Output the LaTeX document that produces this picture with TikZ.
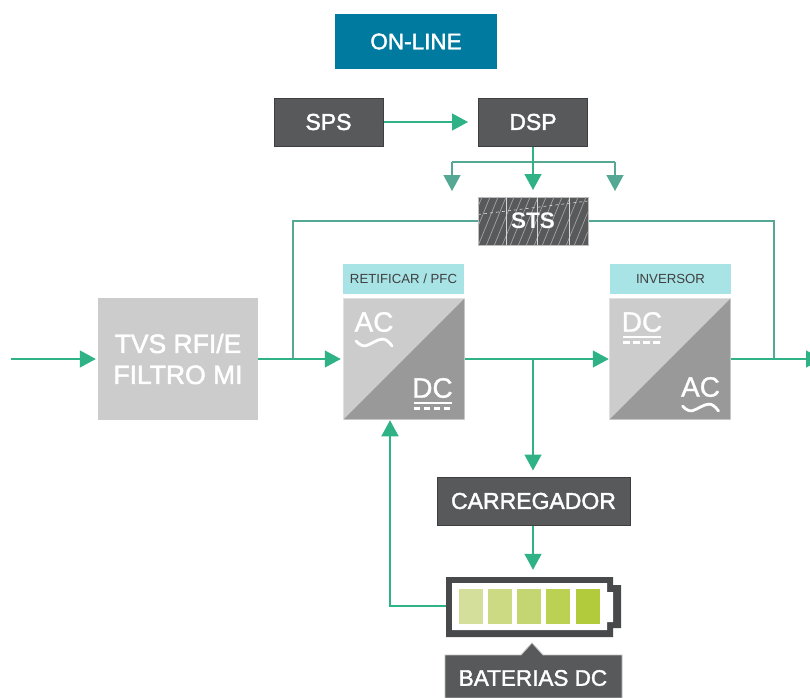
\documentclass[tikz,border=0pt]{standalone}
\usepackage{fontspec}
\setmainfont{Liberation Sans}
\newfontfamily\heavy[FakeBold=1.8]{Liberation Sans}
\newfontfamily\midheavy[FakeBold=1]{Liberation Sans}
\usetikzlibrary{arrows.meta,calc}
\definecolor{dk}{HTML}{58595B}
\definecolor{dkb}{HTML}{3E3E40}
\definecolor{gr}{HTML}{2FB386}
\definecolor{tl}{HTML}{55A893}
\definecolor{cy}{HTML}{007A9E}
\definecolor{lb}{HTML}{A8E3E6}
\definecolor{lg}{HTML}{CCCCCC}
\definecolor{mg}{HTML}{999999}
\definecolor{c1}{HTML}{D4DF9B}
\definecolor{c2}{HTML}{CCDA84}
\definecolor{c3}{HTML}{C4D671}
\definecolor{c4}{HTML}{BBD154}
\definecolor{c5}{HTML}{B2CB3C}
\tikzset{
 x=1pt,y=-1pt,
 fs/.style={font=\fontsize{#1}{#1}\selectfont\heavy},
 dkbox/.style={draw=dkb,line width=1pt,fill=dk,text=white,inner sep=0pt,fs=23},
 lblbox/.style={fill=lb,text=black!75,inner sep=0pt,minimum width=121pt,minimum height=30pt,font=\fontsize{13.2}{13.2}\selectfont},
 convbox/.style={draw=black!12,line width=1.5pt,inner sep=0pt,minimum width=121pt,minimum height=121pt},
 sym/.style={text=white,inner sep=0pt,font=\fontsize{28}{28}\selectfont\midheavy},
 wire/.style={draw=gr,line width=1.4pt},
 twire/.style={draw=tl,line width=1.4pt},
 arr/.style={wire,-{Triangle[length=16pt,width=17pt,fill=gr]}},
 tarr/.style={twire,-{Triangle[length=16pt,width=17pt,fill=tl]}},
 wavy/.style={draw=white,line width=2.8pt,line cap=round},
 rul/.style={draw=white,line width=2.4pt},
 dsh/.style={draw=white,line width=3pt,dash pattern=on 6.5pt off 3.5pt},
}
\newcommand{\wavesym}[2]{\draw[wavy] (#1-18,#2-1) .. controls (#1-10,#2+8) and (#1-5,#2+2) .. (#1,#2) .. controls (#1+6,#2-3) and (#1+11,#2-6) .. (#1+18,#2+4);}
\newcommand{\dcsym}[2]{\draw[rul] (#1-19,#2) -- (#1+19,#2); \draw[dsh] (#1-19,#2+5) -- (#1+19,#2+5);}
\begin{document}
\begin{tikzpicture}
\useasboundingbox (0,0) rectangle (810,697);
\fill[white] (0,0) rectangle (810,697);

% coordinates for free ends and branches
\coordinate (in) at (11,359);
\coordinate (out) at (822,359);
\coordinate (jl) at (452,162);
\coordinate (jr) at (615,162);
\coordinate (jc) at (533,162);
\coordinate (tipl) at (452,191);
\coordinate (tipr) at (615,191);
\coordinate (ja) at (293,359);
\coordinate (jb) at (774,359);
\coordinate (jd) at (533,359);
\coordinate (bl) at (390,606);

% boxes
\node[fill=cy,text=white,inner sep=0pt,minimum width=162pt,minimum height=55pt,fs=22.5] (title) at (416,41.5) {ON-LINE};
\node[dkbox,minimum width=109pt,minimum height=48pt] (sps) at (328.5,122) {SPS};
\node[dkbox,minimum width=109pt,minimum height=48pt] (dsp) at (533,122) {DSP};
\node[draw=black!25,line width=1pt,fill=dk,inner sep=0pt,minimum width=110pt,minimum height=48pt] (sts) at (533,221) {};
\begin{scope}
\clip (478.5,197.5) rectangle (587.5,244.5);
\foreach \i in {0,...,18}{
  \draw[white!45!dk,line width=.7pt] (462+\i*8,246) -- (482+\i*8,197);
}
\draw[white!80!dk,line width=.6pt,dashed] (478,214.5) -- (588,201);
\foreach \p in {506,537,569}{\draw[white!75!dk,line width=.6pt] (\p,197) -- (\p,245);}
\end{scope}
\node[text=white,inner sep=0pt,font=\fontsize{22.5}{22.5}\selectfont\bfseries] at (sts) {STS};

\node[fill=lg,text=white,inner sep=0pt,minimum width=160pt,minimum height=122pt,align=center,fs=26.5] (tvs) at (178,359) {TVS RFI/E\\[4.5pt]FILTRO MI};

\node[lblbox] (retl) at (403.5,279) {RETIFICAR / PFC};
\node[convbox,fill=lg] (ret) at (404,359) {};
\fill[mg] (ret.north east) ++(-1,1) -- ($(ret.south east)+(-1,-1)$) -- ($(ret.south west)+(1,-1)$) -- cycle;
\node[sym] at (374,322) {AC};
\wavesym{374}{342}
\node[sym] at (432.5,388) {DC};
\dcsym{432.5}{403}

\node[lblbox] (invl) at (670.5,279) {INVERSOR};
\node[convbox,fill=lg] (inv) at (670,359) {};
\fill[mg] (inv.north east) ++(-1,1) -- ($(inv.south east)+(-1,-1)$) -- ($(inv.south west)+(1,-1)$) -- cycle;
\node[sym] at (642,322) {DC};
\dcsym{642}{337}
\node[sym] at (700.5,387) {AC};
\wavesym{700.5}{407}

\node[dkbox,minimum width=193pt,minimum height=48pt] (car) at (533.5,501) {CARREGADOR};

% battery
\fill[dkb!60!dk] (446,577) -- (613,577) -- (613,585) -- (621,585) -- (621,628) -- (613,628) -- (613,637) -- (446,637) -- cycle;
\fill[white] (452,583) -- (607,583) -- (607,592) -- (613,592) -- (613,622) -- (607,622) -- (607,630) -- (452,630) -- cycle;
\fill[c1] (459,589) rectangle (483,624);
\fill[c2] (488,589) rectangle (512,624);
\fill[c3] (517,589) rectangle (541,624);
\fill[c4] (546,589) rectangle (570,624);
\fill[c5] (576,589) rectangle (600,624);
\node[inner sep=0pt,minimum width=174pt,minimum height=60pt] (bat) at (533,607) {};

% battery callout
\fill[dk,draw=black!25,line width=.8pt] (445,655) -- (521,655) -- (532,643) -- (543,655) -- (622,655) -- (622,698) -- (445,698) -- cycle;
\node[text=white,inner sep=0pt,fs=22.5] (batl) at (533,678) {BATERIAS DC};

% connectors
\draw[arr,shorten >=10pt] (sps.east) -- (dsp.west);
\draw[twire] (dsp.south) -- (jc);
\draw[twire] (jl) -- (jr);
\draw[tarr] (jl) -- (tipl);
\draw[tarr] (jr) -- (tipr);
\draw[arr,shorten >=6.5pt] (dsp.south) -- (sts.north);
\draw[arr,shorten >=2pt] (in) -- (tvs.west);
\draw[arr,shorten >=2pt] (tvs.east) -- (ret.west);
\draw[twire] (ja) |- (sts.west);
\draw[twire] (sts.east) -| (jb);
\draw[arr] (ret.east) -- (inv.west);
\draw[arr] (inv.east) -- (out);
\draw[arr,shorten >=6pt] (jd) -- (jd |- car.north);
\draw[arr,shorten >=7pt] (jd |- car.south) -- (bat.north);
\draw[arr] (bat.west |- bl) -- (bl) -- (bl |- ret.south);
\end{tikzpicture}
\end{document}
